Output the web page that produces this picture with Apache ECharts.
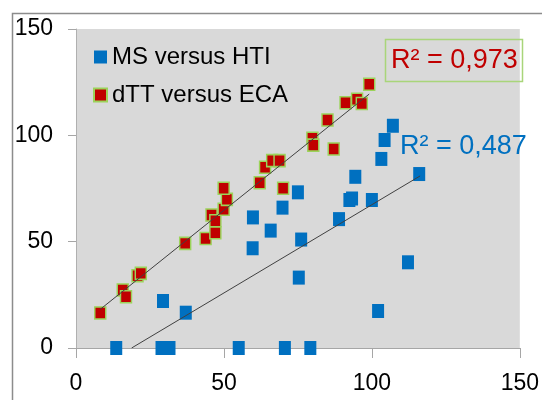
<!DOCTYPE html>
<html><head><meta charset="utf-8">
<script src="https://cdn.jsdelivr.net/npm/echarts@6/dist/echarts.min.js"></script>
<style>html,body{margin:0;padding:0;background:#fff}#c{width:542px;height:400px}</style>
</head><body><div id="c"></div>
<script>
const seriesNames = ['MS versus HTI', 'dTT versus ECA'];
const msHti = [
  [13.6,0],[28.9,0],[31.6,0],[55,0],[70.6,0],[79.2,0],
  [29.4,22.1],[37.1,16.6],[59.7,46.9],[59.8,61.4],[65.8,55.2],[69.8,66],
  [75,73.2],[75.3,33.1],[76.1,51],[88.9,60.6],[92.4,69.6],[93.3,70.3],
  [94.4,80.5],[100,69.6],[102.1,17.4],[103.2,88.9],[104.3,97.8],[107.1,104.5],
  [112.2,40.3],[116,81.8]
];
const dttEca = [
  [8.2,16.5],[15.8,27.3],[16.9,24.1],[20.8,34.0],[21.9,35.1],[36.9,49.2],
  [43.8,51.5],[47.1,54.2],[45.8,62.5],[47.1,59.8],[49.9,65.2],[51,69.9],
  [49.9,75.1],[62.1,77.7],[63.9,85],[66.3,88.1],[68.8,88.1],[70,75.1],
  [79.9,98.6],[80.2,95.4],[87.1,93.6],[85,107.2],[91.1,115.3],[95,117],
  [96.6,115],[99.1,124]
];
const trendMs = [[18.8,0],[116.3,80.9]];
const trendDtt = [[8.2,18.2],[99.1,119.4]];
const r2Labels = ['R² = 0,487', 'R² = 0,973'];
const axisMin = 0, axisMax = 150, axisStep = 50;

const FONT = "'Liberation Sans', Arial, sans-serif";
const chart = echarts.init(document.getElementById('c'), null, {renderer: 'canvas'});
chart.setOption({
  animation: false,
  backgroundColor: '#ffffff',
  grid: {left: 76, top: 29, width: 451, height: 319, show: true, backgroundColor: '#d9d9d9', borderWidth: 0},
  legend: {
    data: seriesNames,
    orient: 'vertical',
    left: 93, top: 44, padding: 0,
    itemWidth: 13, itemHeight: 13, itemGap: 12,
    icon: 'rect',
    textStyle: {fontFamily: FONT, fontSize: 24, color: '#000', lineHeight: 26}
  },
  xAxis: {
    type: 'value', min: axisMin, max: axisMax, interval: axisStep,
    splitLine: {show: false},
    axisLine: {show: true, onZero: false, lineStyle: {color: '#a6a6a6', width: 1}},
    axisTick: {show: true, length: 10, lineStyle: {color: '#a6a6a6'}},
    axisLabel: {fontFamily: FONT, fontSize: 23, color: '#000', margin: 24}
  },
  yAxis: {
    type: 'value', min: axisMin, max: axisMax, interval: axisStep,
    splitLine: {show: false},
    axisLine: {show: true, onZero: false, lineStyle: {color: '#b0b0b0', width: 1}},
    axisTick: {show: true, length: 8, lineStyle: {color: '#a6a6a6'}},
    axisLabel: {fontFamily: FONT, fontSize: 23, color: '#000', margin: 23}
  },
  series: [
    {name: seriesNames[0], type: 'scatter', data: msHti, symbol: 'rect', symbolSize: [12, 14], clip: false,
     itemStyle: {color: '#0070c0', opacity: 1}, z: 2},
    {name: seriesNames[1], type: 'scatter', data: dttEca, symbol: 'rect', symbolSize: [11, 12], clip: false,
     itemStyle: {color: '#c00000', borderColor: '#9bd35a', borderWidth: 1.5, opacity: 1}, z: 3},
    {type: 'line', data: trendMs, symbol: 'none', lineStyle: {color: '#404040', width: 1}, z: 4, silent: true},
    {type: 'line', data: trendDtt, symbol: 'none', lineStyle: {color: '#404040', width: 1}, z: 4, silent: true}
  ],
  graphic: [
    {type: 'rect', shape: {x: 12.5, y: 13.5, width: 700, height: 500},
     style: {fill: 'none', stroke: '#8c8c8c', lineWidth: 1.5}, z: 100},
    {type: 'rect', shape: {x: 385.5, y: 39.5, width: 137, height: 42},
     style: {fill: 'none', stroke: '#a9d57a', lineWidth: 1.5}, z: 100},
    {type: 'text', x: 391, y: 61, style: {text: r2Labels[1], fill: '#c00000', font: '27px ' + FONT, verticalAlign: 'middle'}, z: 101},
    {type: 'text', x: 400, y: 147, style: {text: r2Labels[0], fill: '#0070c0', font: '27px ' + FONT, verticalAlign: 'middle'}, z: 101}
  ]
});
</script>
</body></html>
